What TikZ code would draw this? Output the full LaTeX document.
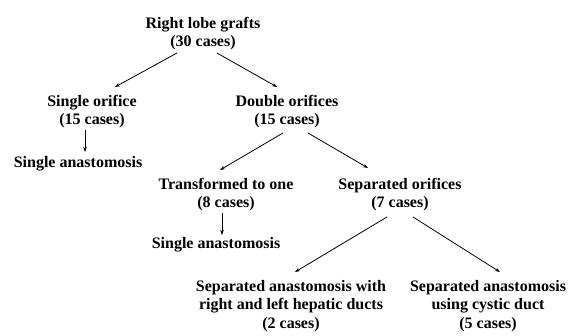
\documentclass[tikz,border=0pt]{standalone}
\usepackage{fontspec}
\setmainfont{Liberation Serif}
\usetikzlibrary{arrows.meta}
\begin{document}
\begin{tikzpicture}[x=1pt,y=-1pt,
  lbl/.style={align=center,inner sep=0pt,anchor=base,
    font=\fontsize{16}{18.5}\selectfont\bfseries},
  arr/.style={-{Stealth[length=5pt,width=3.5pt]},line width=0.8pt}]
\useasboundingbox (0,0) rectangle (583,335);
\node[lbl] (root) at (203,46.5) {Right lobe grafts\\(30 cases)};
\node[lbl] (so) at (92,124.5) {Single orifice\\(15 cases)};
\node[lbl] (do) at (287,124.5) {Double orifices\\(15 cases)};
\node[lbl] (sa1) at (78,167) {Single anastomosis};
\node[lbl] (tr) at (226,207.5) {Transformed to one\\(8 cases)};
\node[lbl] (sep) at (400,207.5) {Separated orifices\\(7 cases)};
\node[lbl] (sa2) at (216,248) {Single anastomosis};
\node[lbl] (bl) at (291,328) {Separated anastomosis with\\right and left hepatic ducts\\(2 cases)};
\node[lbl] (br) at (488,328) {Separated anastomosis\\using cystic duct\\(5 cases)};
% arrows
\draw[arr] ([shift={(-26,6.5)}]root.base) -- ([shift={(23,-37.5)}]so.base);
\draw[arr] ([shift={(14,6.5)}]root.base) -- ([shift={(-10,-37.5)}]do.base);
\draw[arr] ([shift={(-7,5.5)}]so.base) -- ([shift={(7,-15)}]sa1.base);
\draw[arr] ([shift={(-4,8.5)}]do.base) -- ([shift={(-6,-37.5)}]tr.base);
\draw[arr] ([shift={(21,8.5)}]do.base) -- ([shift={(-32,-39.5)}]sep.base);
\draw[arr,line width=0.5pt] ([shift={(-4,5.5)}]tr.base) -- ([shift={(6,-13)}]sa2.base);
\draw[arr] ([shift={(-13,9.5)}]sep.base) -- ([shift={(4,-56)}]bl.base);
\draw[arr] ([shift={(13,9.5)}]sep.base) -- ([shift={(12,-56)}]br.base);
\end{tikzpicture}
\end{document}
